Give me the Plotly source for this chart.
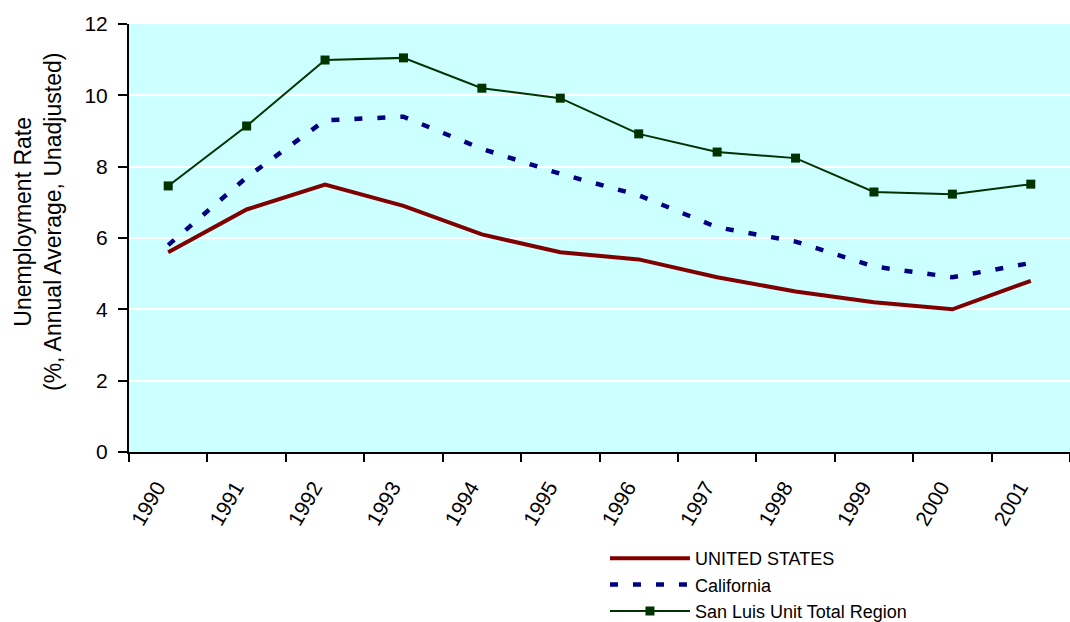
import plotly.graph_objects as go

years = ["1990", "1991", "1992", "1993", "1994", "1995", "1996", "1997", "1998", "1999", "2000", "2001"]
us = [5.6, 6.8, 7.5, 6.9, 6.1, 5.6, 5.4, 4.9, 4.5, 4.2, 4.0, 4.8]
california = [5.8, 7.7, 9.3, 9.4, 8.5, 7.8, 7.2, 6.3, 5.9, 5.2, 4.9, 5.3]
san_luis = [7.46, 9.14, 10.99, 11.05, 10.2, 9.92, 8.92, 8.41, 8.24, 7.29, 7.23, 7.51]

y_title = "Unemployment Rate<br>(%, Annual Average, Unadjusted)"

fig = go.Figure()
fig.add_trace(go.Scatter(x=years, y=us, mode="lines", name="UNITED STATES",
                         line=dict(color="#800000", width=4)))
fig.add_trace(go.Scatter(x=years, y=california, mode="lines", name="California",
                         line=dict(color="#000080", width=4.5, dash="8px,15px")))
fig.add_trace(go.Scatter(x=years, y=san_luis, mode="lines+markers", name="San Luis Unit Total Region",
                         line=dict(color="#003300", width=2),
                         marker=dict(symbol="square", size=9, color="#003300")))

font_family = "Liberation Sans, Arial, sans-serif"
fig.update_layout(
    width=1070, height=622,
    margin=dict(l=129, r=0, t=24, b=170, autoexpand=False),
    paper_bgcolor="white",
    plot_bgcolor="#CCFFFF",
    font=dict(family=font_family, size=20, color="black"),
    showlegend=True,
    legend=dict(x=0.5058, y=-0.2056, xanchor="left", yanchor="top",
                font=dict(size=18, family=font_family), itemwidth=80,
                bgcolor="rgba(0,0,0,0)", tracegroupgap=0),
    xaxis=dict(type="category", range=[-0.5, len(years) - 0.5], tickangle=-60,
               tickson="boundaries", ticks="outside",
               ticklen=8, tickwidth=2, tickcolor="black", showline=True, linecolor="black",
               linewidth=2, showgrid=False, tickfont=dict(size=21), ticklabelstandoff=13,
               ticklabelshift=-11, automargin=False),
    yaxis=dict(range=[0, 12], dtick=2, ticks="outside", ticklen=9, tickwidth=2,
               tickcolor="black", showline=True, linecolor="black", linewidth=2,
               gridcolor="white", gridwidth=2, zeroline=False, tickfont=dict(size=21),
               ticklabelstandoff=6, automargin=False),
    annotations=[dict(text=y_title, xref="paper", yref="paper", x=0, y=(452 - 222) / 428,
                      xanchor="center", yanchor="middle", xshift=-91, textangle=-90,
                      showarrow=False, font=dict(size=23, family=font_family, color="black"))],
)

fig.write_html("out.html", config={"displayModeBar": False},
               post_script="document.body.style.margin='0';")
